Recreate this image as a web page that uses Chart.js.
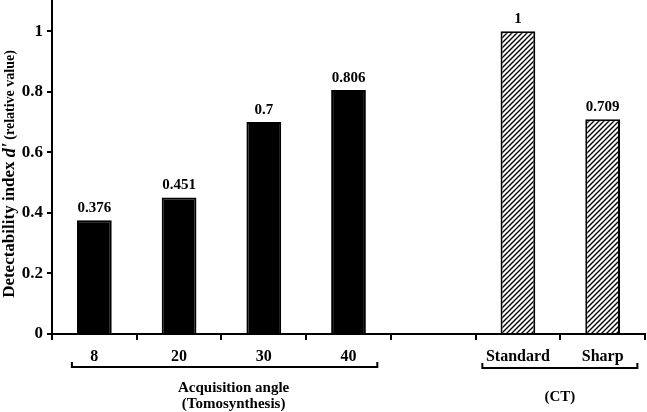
<!DOCTYPE html>
<html><head><meta charset="utf-8">
<script src="https://cdn.jsdelivr.net/npm/chart.js@4/dist/chart.umd.min.js"></script>
<style>html,body{margin:0;padding:0;background:#fff}</style>
</head><body>
<canvas id="c" width="647" height="412" style="width:647px;height:412px;display:block"></canvas>
<script>
const categories = ['8', '20', '30', '40', '', 'Standard', 'Sharp'];
const values = [0.376, 0.451, 0.7, 0.806, null, 1, 0.709];
const valueLabels = ['0.376', '0.451', '0.7', '0.806', '', '1', '0.709'];
const barKinds = ['solid', 'solid', 'solid', 'solid', 'none', 'hatch', 'hatch'];
const yTicks = [0, 0.2, 0.4, 0.6, 0.8, 1];
const groupTomo = ['Acquisition angle', '(Tomosynthesis)'];
const groupCT = ['(CT)'];
const yTitle = ['Detectability index ', "d'", ' (relative value)'];

const SERIF = '"Liberation Serif", "Times New Roman", serif';

function hatchPattern() {
  const s = 5;
  const pc = document.createElement('canvas');
  pc.width = s; pc.height = s;
  const g = pc.getContext('2d');
  g.fillStyle = '#fff'; g.fillRect(0, 0, s, s);
  g.strokeStyle = '#000'; g.lineWidth = 1.4;
  g.beginPath();
  g.moveTo(-1, s + 1); g.lineTo(s + 1, -1);
  g.moveTo(-1, 1); g.lineTo(1, -1);
  g.moveTo(s - 1, s + 1); g.lineTo(s + 1, s - 1);
  g.stroke();
  return document.getElementById('c').getContext('2d').createPattern(pc, 'repeat');
}
const hatch = hatchPattern();
const fills = barKinds.map(k => k === 'hatch' ? hatch : '#000');

const decor = {
  id: 'decor',
  afterDatasetsDraw(chart) {
    const ctx = chart.ctx;
    const meta = chart.getDatasetMeta(0);
    ctx.save();
    ctx.fillStyle = '#000';
    ctx.font = 'bold 15px ' + SERIF;
    ctx.textAlign = 'center';
    ctx.textBaseline = 'alphabetic';
    meta.data.forEach((bar, i) => {
      if (values[i] == null) return;
      ctx.fillText(valueLabels[i], bar.x, bar.y - 8);
    });
    ctx.restore();
  },
  afterDraw(chart) {
    const ctx = chart.ctx;
    const xs = chart.scales.x;
    const ca = chart.chartArea;
    const cw = xs.getPixelForValue(1) - xs.getPixelForValue(0);
    ctx.save();
    ctx.strokeStyle = '#000';
    ctx.lineWidth = 2;
    function bracket(x1, x2, y) {
      ctx.beginPath();
      ctx.moveTo(x1, y - 5);
      ctx.lineTo(x1, y);
      ctx.lineTo(x2, y);
      ctx.lineTo(x2, y - 5);
      ctx.stroke();
    }
    const by = ca.bottom + 33;
    const t1 = xs.getPixelForValue(0) - cw * 0.265;
    const t2 = xs.getPixelForValue(3) + cw * 0.34;
    bracket(t1, t2, by);
    const c1 = xs.getPixelForValue(5) - cw * 0.42;
    const c2 = xs.getPixelForValue(6) + cw * 0.41;
    bracket(c1, c2, by + 1);
    ctx.fillStyle = '#000';
    ctx.textAlign = 'center';
    ctx.textBaseline = 'middle';
    ctx.font = 'bold 15px ' + SERIF;
    const tc = (t1 + t2) / 2 + 9;
    ctx.fillText(groupTomo[0], tc, ca.bottom + 54);
    ctx.fillText(groupTomo[1], tc, ca.bottom + 70);
    ctx.fillText(groupCT[0], (c1 + c2) / 2, ca.bottom + 63);
    // y title
    ctx.translate(10, 174);
    ctx.rotate(-Math.PI / 2);
    const fonts = ['bold 17px ' + SERIF, 'italic bold 18px ' + SERIF, 'bold 14px ' + SERIF];
    const widths = yTitle.map((t, i) => { ctx.font = fonts[i]; return ctx.measureText(t).width; });
    const total = widths.reduce((a, b) => a + b, 0);
    let x = -total / 2;
    ctx.textAlign = 'left';
    yTitle.forEach((t, i) => {
      ctx.font = fonts[i];
      ctx.fillText(t, x, 0);
      x += widths[i];
    });
    ctx.restore();
  }
};

new Chart(document.getElementById('c'), {
  type: 'bar',
  data: {
    labels: categories,
    datasets: [{
      data: values,
      backgroundColor: fills,
      borderColor: '#000',
      borderWidth: 2,
      barPercentage: 0.41,
      categoryPercentage: 1
    }]
  },
  options: {
    responsive: false,
    animation: false,
    devicePixelRatio: 1,
    layout: { padding: { top: 1, right: 2, left: 0, bottom: 0 } },
    plugins: { legend: { display: false }, tooltip: { enabled: false } },
    scales: {
      x: {
        grid: { display: true, drawOnChartArea: false, drawTicks: true, tickLength: 6, color: '#000', lineWidth: 2, offset: true },
        border: { display: true, color: '#000', width: 2 },
        ticks: { color: '#000', font: { family: SERIF, size: 16, weight: 'bold' }, padding: 7, maxRotation: 0, autoSkip: false },
        afterFit: s => { s.height = 78; s.paddingLeft = 0; s.paddingRight = 0; }
      },
      y: {
        min: 0, max: 1.1,
        afterBuildTicks: s => { s.ticks = yTicks.map(v => ({ value: v })); },
        grid: { display: true, drawOnChartArea: false, drawTicks: true, tickLength: 5, color: '#000', lineWidth: 2 },
        border: { display: true, color: '#000', width: 2 },
        ticks: { color: '#000', font: { family: SERIF, size: 17, weight: 'bold' }, padding: 4,
          callback: v => String(v) },
        afterFit: s => { s.width = 52; s.paddingTop = 0; s.paddingBottom = 0; }
      }
    }
  },
  plugins: [decor]
});
</script>
</body></html>
